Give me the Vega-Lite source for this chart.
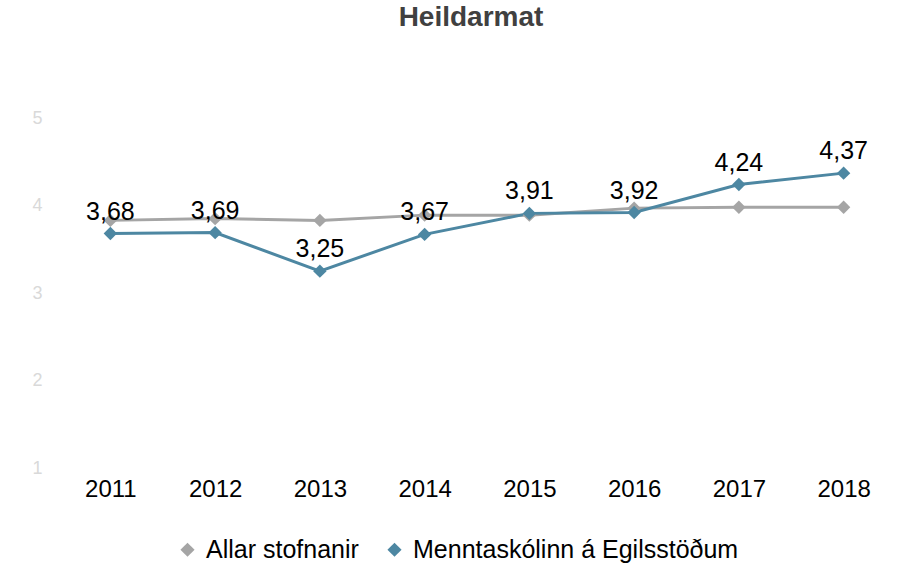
{
  "$schema": "https://vega.github.io/schema/vega-lite/v6.json",
  "width": 838,
  "height": 350,
  "autosize": {"type": "none"},
  "padding": {"left": 58, "top": 118, "right": 9, "bottom": 103},
  "background": "white",
  "title": {"text": "Heildarmat", "font": "Liberation Sans", "fontSize": 28, "fontWeight": "bold", "color": "#404040", "offset": 77, "anchor": "middle", "dx": -6},
  "config": {
    "view": {"stroke": null},
    "locale": {"number": {"decimal": ",", "thousands": ".", "grouping": [3], "currency": ["", " kr."]}},
    "font": "Liberation Sans"
  },
  "data": {"values": [
    {"year": "2011", "series": "Allar stofnanir", "value": 3.83},
    {"year": "2012", "series": "Allar stofnanir", "value": 3.85},
    {"year": "2013", "series": "Allar stofnanir", "value": 3.83},
    {"year": "2014", "series": "Allar stofnanir", "value": 3.89},
    {"year": "2015", "series": "Allar stofnanir", "value": 3.89},
    {"year": "2016", "series": "Allar stofnanir", "value": 3.97},
    {"year": "2017", "series": "Allar stofnanir", "value": 3.98},
    {"year": "2018", "series": "Allar stofnanir", "value": 3.98},
    {"year": "2011", "series": "Menntaskólinn á Egilsstöðum", "value": 3.68},
    {"year": "2012", "series": "Menntaskólinn á Egilsstöðum", "value": 3.69},
    {"year": "2013", "series": "Menntaskólinn á Egilsstöðum", "value": 3.25},
    {"year": "2014", "series": "Menntaskólinn á Egilsstöðum", "value": 3.67},
    {"year": "2015", "series": "Menntaskólinn á Egilsstöðum", "value": 3.91},
    {"year": "2016", "series": "Menntaskólinn á Egilsstöðum", "value": 3.92},
    {"year": "2017", "series": "Menntaskólinn á Egilsstöðum", "value": 4.24},
    {"year": "2018", "series": "Menntaskólinn á Egilsstöðum", "value": 4.37}
  ]},
  "encoding": {
    "x": {"field": "year", "type": "ordinal", "scale": {"type": "point", "padding": 0.5},
      "axis": {"title": null, "labelAngle": 0, "labelFontSize": 24, "labelColor": "#000000", "domain": false, "ticks": false, "labelPadding": 9, "labelFont": "Liberation Sans"}},
    "y": {"field": "value", "type": "quantitative", "scale": {"domain": [1, 5], "nice": false, "zero": false},
      "axis": {"title": null, "values": [1, 2, 3, 4, 5], "format": "d", "labelFontSize": 18, "labelColor": "#d9d9d9", "domain": false, "ticks": false, "grid": false, "labelPadding": 16, "labelFont": "Liberation Sans"}}
  },
  "layer": [
    {
      "mark": {"type": "line", "strokeWidth": 3},
      "encoding": {
        "color": {"field": "series", "type": "nominal", "scale": {"domain": ["Allar stofnanir", "Menntaskólinn á Egilsstöðum"], "range": ["#a5a5a5", "#4d87a2"]},
          "legend": {"title": null, "orient": "none", "direction": "horizontal", "legendX": 117, "legendY": 419, "symbolType": "diamond", "symbolSize": 200, "labelFontSize": 25, "labelColor": "#000000", "labelFont": "Liberation Sans", "columnPadding": 23, "symbolStrokeWidth": 0, "labelOffset": 6, "labelLimit": 600}}
      }
    },
    {
      "mark": {"type": "point", "shape": "diamond", "filled": true, "size": 180, "opacity": 1},
      "encoding": {
        "color": {"field": "series", "type": "nominal", "legend": null}
      }
    },
    {
      "transform": [{"filter": "datum.series === 'Menntaskólinn á Egilsstöðum'"}],
      "mark": {"type": "text", "fontSize": 25, "color": "#000000", "baseline": "bottom", "dy": -9, "font": "Liberation Sans"},
      "encoding": {
        "text": {"field": "value", "type": "quantitative", "format": ".2f"}
      }
    }
  ]
}
